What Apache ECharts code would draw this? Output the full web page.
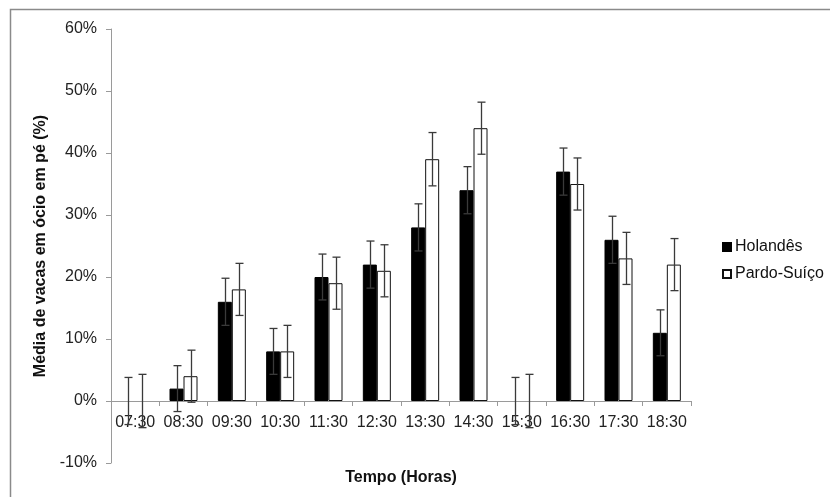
<!DOCTYPE html>
<html>
<head>
<meta charset="utf-8">
<script src="https://cdn.jsdelivr.net/npm/echarts@6/dist/echarts.min.js"></script>
<style>
  html, body { margin: 0; padding: 0; background: #fff; }
  #chart { width: 830px; height: 497px; }
</style>
</head>
<body>
<div id="chart"></div>
<script>
var chart = echarts.init(document.getElementById('chart'));

// horário de observação
var horas = ['07:30', '08:30', '09:30', '10:30', '11:30', '12:30',
             '13:30', '14:30', '15:30', '16:30', '17:30', '18:30'];

// média (%) por raça
var holandes = [0, 2, 16, 8, 20, 22, 28, 34, 0, 37, 26, 11];
var pardoSuico = [0, 4, 18, 8, 19, 21, 39, 44, 0, 35, 23, 22];

var erroHolandes = [3.8, 3.7, 3.8, 3.7, 3.7, 3.8, 3.8, 3.8, 3.8, 3.8, 3.8, 3.7];
var erroPardo = [4.3, 4.2, 4.2, 4.2, 4.2, 4.2, 4.3, 4.2, 4.3, 4.2, 4.2, 4.2];

var yTicks = [-10, 0, 10, 20, 30, 40, 50, 60];

var font = 'Liberation Sans, Arial, sans-serif';
var barW = 14;
var gridTop = 29, gridBottom = 34;
var plotH = 497 - gridTop - gridBottom;
// place the category axis on the 0% line (v6 leaves labels at the grid edge with onZero)
var zeroOffset = -plotH * (0 - yTicks[0]) / (yTicks[yTicks.length - 1] - yTicks[0]);

// zero bars: no outline (Excel draws nothing there)
var barData = function (vals) {
    return vals.map(function (v) {
        return v === 0 ? { value: v, itemStyle: { borderWidth: 0 } } : v;
    });
};

var errData = function (vals, errs) {
    var out = [];
    for (var i = 0; i < vals.length; i++) {
        out.push([i, vals[i] - errs[i], vals[i] + errs[i]]);
    }
    return out;
};

var errorBars = function (offset) {
    return function (params, api) {
        var idx = api.value(0);
        var hi = api.coord([idx, api.value(2)]);
        var lo = api.coord([idx, api.value(1)]);
        var x = Math.round(hi[0] + offset) + 0.5;
        var cap = 4;
        var style = { stroke: '#3a3a3a', lineWidth: 1.3 };
        return {
            type: 'group',
            children: [
                { type: 'line', shape: { x1: x, y1: hi[1], x2: x, y2: lo[1] }, style: style },
                { type: 'line', shape: { x1: x - cap, y1: hi[1], x2: x + cap, y2: hi[1] }, style: style },
                { type: 'line', shape: { x1: x - cap, y1: lo[1], x2: x + cap, y2: lo[1] }, style: style }
            ]
        };
    };
};

option = {
    animation: false,
    backgroundColor: '#fff',
    textStyle: { fontFamily: font },
    graphic: [{
        type: 'rect',
        shape: { x: 10.5, y: 9.5, width: 840, height: 500 },
        style: { fill: 'none', stroke: '#8a8a8a', lineWidth: 1.5 },
        silent: true
    }],
    grid: { left: 111, right: 139, top: gridTop, bottom: gridBottom, outerBoundsMode: 'none', containLabel: false },
    legend: {
        orient: 'vertical',
        left: 717,
        top: 234,
        itemWidth: 8,
        itemHeight: 8,
        itemGap: 11,
        textStyle: { fontSize: 16, color: '#111', fontFamily: font, padding: [0, 0, 0, -1] },
        data: [
            { name: 'Holandês', icon: 'rect' },
            { name: 'Pardo-Suíço', icon: 'rect' }
        ]
    },
    xAxis: {
        type: 'category',
        data: horas,
        position: 'bottom',
        offset: zeroOffset,
        name: 'Tempo (Horas)',
        nameLocation: 'middle',
        nameGap: 69,
        nameTextStyle: { fontSize: 16, fontWeight: 'bold', color: '#111', fontFamily: font },
        axisLine: { onZero: false, lineStyle: { color: '#9a9a9a', width: 1 } },
        axisTick: { show: true, length: 5, lineStyle: { color: '#9a9a9a' } },
        axisLabel: { fontSize: 16, color: '#222', margin: 14, fontFamily: font, interval: 0 },
        splitLine: { show: false }
    },
    yAxis: {
        type: 'value',
        min: yTicks[0],
        max: yTicks[yTicks.length - 1],
        interval: 10,
        name: 'Média de vacas em ócio em pé (%)',
        nameLocation: 'middle',
        nameGap: 56,
        nameTextStyle: { fontSize: 16, fontWeight: 'bold', color: '#111', fontFamily: font },
        axisLine: { show: true, lineStyle: { color: '#9a9a9a', width: 1 } },
        axisTick: { show: true, length: 5, lineStyle: { color: '#9a9a9a' } },
        axisLabel: { fontSize: 16, color: '#222', margin: 14, fontFamily: font, formatter: '{value}%' },
        splitLine: { show: false }
    },
    series: [
        {
            name: 'Holandês',
            type: 'bar',
            data: barData(holandes),
            barWidth: barW,
            barGap: '0%',
            itemStyle: { color: '#000', borderColor: '#000', borderWidth: 1 }
        },
        {
            name: 'Pardo-Suíço',
            type: 'bar',
            data: barData(pardoSuico),
            barWidth: barW,
            barGap: '0%',
            itemStyle: { color: '#fff', borderColor: '#111', borderWidth: 1 }
        },
        {
            name: 'erro-h',
            type: 'custom',
            data: errData(holandes, erroHolandes),
            encode: { x: 0, y: [1, 2] },
            renderItem: errorBars(-barW / 2),
            z: 5,
            silent: true
        },
        {
            name: 'erro-p',
            type: 'custom',
            data: errData(pardoSuico, erroPardo),
            encode: { x: 0, y: [1, 2] },
            renderItem: errorBars(barW / 2),
            z: 5,
            silent: true
        }
    ]
};

chart.setOption(option);
</script>
</body>
</html>
